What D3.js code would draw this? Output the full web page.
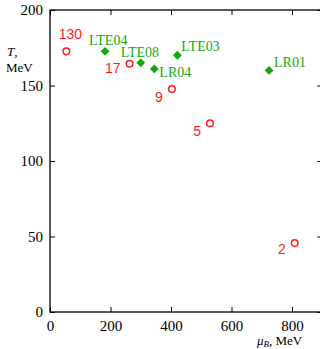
<!DOCTYPE html>
<html><head><meta charset="utf-8">
<script src="https://cdn.jsdelivr.net/npm/d3@7"></script>
<style>body{margin:0;background:#fff}svg{display:block}</style>
</head><body>
<script>
// Data
const redLabels = ["130","17","9","5","2"];
const redMu = [54, 263, 403, 529, 809];
const redT = [172.6, 164.4, 147.7, 125, 45.7];
const greenLabels = ["LTE04","LTE08","LR04","LTE03","LR01"];
const greenMu = [182, 300, 345, 421, 724];
const greenT = [172.6, 165, 161, 170, 160];
const xTicks = [0,200,400,600,800];
const yTicks = [0,50,100,150,200];

// label offsets (dx, dy, anchor) for layout
const redOff = [[4,-12,"middle"],[-9,9,"end"],[-9,13,"end"],[-9,13,"end"],[-9,11,"end"]];
const greenOff = [[-16,-6,"start"],[-20,-6,"start"],[5,8,"start"],[4,-4,"start"],[5,-3,"start"]];

const W=320,H=349;
const svg=d3.select("body").append("svg").attr("width",W).attr("height",H);
const x=d3.scaleLinear().domain([0,900]).range([50,322.25]);
const y=d3.scaleLinear().domain([0,200]).range([312,10]);
const serif="'Liberation Serif','Times New Roman',serif";
const sans="'Liberation Sans',Arial,sans-serif";

// frame
svg.append("rect").attr("x",50).attr("y",10).attr("width",272.25).attr("height",302)
 .attr("fill","none").attr("stroke","#000").attr("stroke-width",1.3);

// axes
const gx=svg.append("g").attr("transform","translate(0,312)")
 .call(d3.axisBottom(x).tickValues(xTicks).tickSizeInner(-5).tickSizeOuter(0).tickPadding(8));
const gxt=svg.append("g").attr("transform","translate(0,10)")
 .call(d3.axisTop(x).tickValues(xTicks).tickSizeInner(-5).tickSizeOuter(0).tickFormat(""));
const gy=svg.append("g").attr("transform","translate(50,0)")
 .call(d3.axisLeft(y).tickValues(yTicks).tickSizeInner(-5).tickSizeOuter(0).tickPadding(7));
const gyr=svg.append("g").attr("transform","translate(322.25,0)")
 .call(d3.axisRight(y).tickValues(yTicks).tickSizeInner(-5).tickSizeOuter(0).tickFormat(""));
[gx,gxt,gy,gyr].forEach(g=>{
  g.select(".domain").remove();
  g.selectAll("line").attr("stroke","#000").attr("stroke-width",1);
  g.selectAll("text").attr("font-family",serif).attr("font-size",15).attr("fill","#000");
});

// axis titles
const ty=svg.append("text").attr("font-family",serif).attr("font-size",13).attr("fill","#000");
ty.append("tspan").attr("x",7).attr("y",56).attr("font-style","italic").text("T");
ty.append("tspan").text(",");
svg.append("text").attr("x",6).attr("y",72).attr("font-family",serif).attr("font-size",13).text("MeV");
const tx=svg.append("text").attr("x",257).attr("y",345).attr("font-family",serif).attr("font-size",13);
tx.append("tspan").attr("font-style","italic").text("μ");
tx.append("tspan").attr("font-style","italic").attr("font-size",9).attr("dy",2).text("B");
tx.append("tspan").attr("dy",-2).text(", MeV");

// red circles
redMu.forEach((m,i)=>{
  svg.append("circle").attr("cx",x(m)).attr("cy",y(redT[i])).attr("r",3.3)
   .attr("fill","none").attr("stroke","#ff1a1a").attr("stroke-width",1.5);
  svg.append("text").attr("x",x(m)+redOff[i][0]).attr("y",y(redT[i])+redOff[i][1])
   .attr("text-anchor",redOff[i][2]).attr("font-family",sans).attr("font-size",14)
   .attr("fill","#ff1a1a").text(redLabels[i]);
});
// green diamonds
const sym=d3.symbol().type(d3.symbolDiamond2).size(50);
greenMu.forEach((m,i)=>{
  svg.append("path").attr("d",sym()).attr("transform",`translate(${x(m)},${y(greenT[i])})`)
   .attr("fill","#13a813");
  svg.append("text").attr("x",x(m)+greenOff[i][0]).attr("y",y(greenT[i])+greenOff[i][1])
   .attr("text-anchor",greenOff[i][2]).attr("font-family",serif).attr("font-size",14)
   .attr("fill","#13a813").text(greenLabels[i]);
});
</script>
</body></html>
